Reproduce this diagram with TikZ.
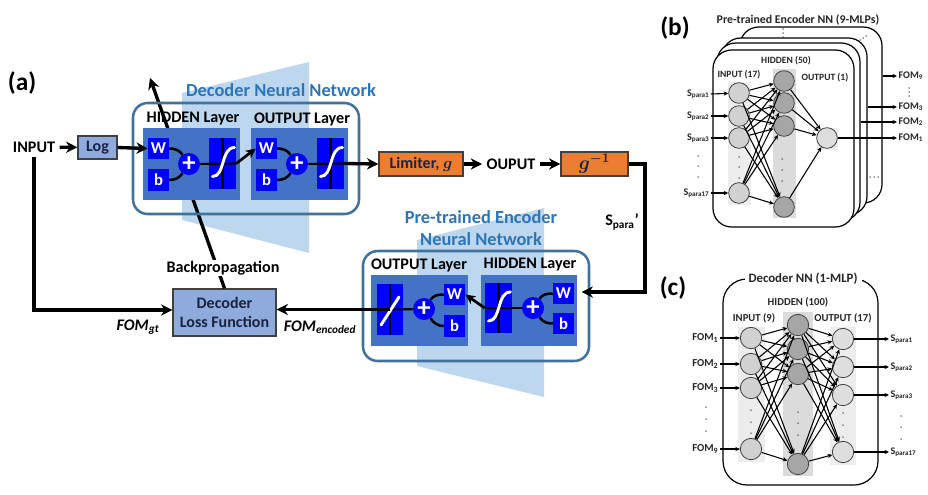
\documentclass[tikz,border=0pt]{standalone}
\usepackage{fontspec}
\setmainfont{Carlito}
\usetikzlibrary{arrows.meta}

\definecolor{panelblue}{HTML}{4472C4}
\definecolor{framblue}{HTML}{41719C}
\definecolor{titleblue}{HTML}{2E75B6}
\definecolor{trapblue}{HTML}{BDD7EE}
\definecolor{logblue}{HTML}{8FAADC}
\definecolor{limorange}{HTML}{ED7D31}
\definecolor{darktext}{HTML}{1A2340}

\tikzset{
	sized/.style 2 args={minimum width=#1*.75pt, minimum height=#2*.75pt, inner sep=0pt},
	biglabel/.style={font=\fontsize{19}{21}\selectfont\bfseries},
	layertext/.style={font=\fontsize{12.1}{13}\selectfont\bfseries},
	nettitle/.style={font=\fontsize{13.8}{16.5}\selectfont\bfseries, text=titleblue, align=center},
	boxtext/.style={font=\fontsize{12}{14.5}\selectfont\bfseries, text=darktext, align=center},
	mathbox/.style={font=\fontsize{14}{15}\selectfont\bfseries, text=darktext},
	frame/.style={draw=framblue, line width=1.9pt, rounded corners=11pt},
	panel/.style={fill=panelblue},
	bluebox/.style={fill=blue, text=white, font=\fontsize{12.5}{13}\selectfont\bfseries},
	plusnode/.style={circle, fill=blue, text=white, minimum size=16.5pt, inner sep=0pt, font=\fontsize{20}{20}\selectfont\bfseries},
	curveline/.style={line width=1.9pt},
	blackline/.style={line width=1.6pt},
	whiteline/.style={draw=white, line width=2.2pt, line cap=round},
	flow/.style={-{Stealth[length=8.5pt,width=8.5pt]}, line width=2.5pt},
	slimflow/.style={-{Stealth[length=7.5pt,width=7pt]}, line width=2pt},
	link/.style={-{Stealth[length=3.5pt,width=3.2pt]}, line width=.8pt},
	card/.style={draw, fill=white, line width=.9pt, rounded corners=14pt},
	netcircle/.style={circle, draw=black!75, line width=.6pt, minimum size=15.5pt, inner sep=0pt},
	incircle/.style={netcircle, fill=black!18},
	hidcircle/.style={netcircle, fill=black!35},
	outcircle/.style={netcircle, fill=black!13},
	smalltext/.style={font=\fontsize{7.2}{8}\selectfont\bfseries, text=black!85},
	portb/.style={font=\fontsize{7.6}{8}\selectfont\bfseries, text=black!85, inner sep=1pt},
	portc/.style={font=\fontsize{8}{9}\selectfont\bfseries, text=black!85, inner sep=1pt},
}

\begin{document}
\begin{tikzpicture}[x=.75pt,y=-.75pt]
	\useasboundingbox (0,0) rectangle (928,494);

	% Light trapezoids behind the two networks
	\fill[trapblue] (182,93) -- (309,62) -- (309,253) -- (182,220) -- cycle;
	\fill[trapblue] (417,240) -- (544,208) -- (544,397) -- (417,366) -- cycle;
	\node[nettitle] (dectitle) at (281,90) {Decoder Neural Network};
	\node[nettitle] (enctitle) at (481,228) {Pre-trained Encoder\\Neural Network};

	% Main boxes of part (a)
	\node[biglabel] (laba) at (22,83) {(a)};
	\node[layertext] (input) at (34,147) {INPUT};
	\node[sized={39}{23}, draw=black!75, line width=1pt, fill=logblue, boxtext] (log) at (97.5,147.5) {Log};
	\node[sized={103}{47}, draw=black!75, line width=1pt, fill=logblue, boxtext] (loss) at (224.5,312.5) {Decoder\\Loss Function};
	\node[sized={84}{24}, draw=black!75, line width=1pt, fill=limorange, boxtext] (limiter) at (421,164) {Limiter, {\boldmath$g$}};
	\node[layertext] (ouput) at (511,164) {OUPUT};
	\node[sized={67}{24}, draw=black!75, line width=1pt, fill=limorange, mathbox] (ginv) at (594.5,164) {{\boldmath$g^{-1}$}};

	% Backpropagation goes under the panels
	\coordinate (bptip) at (150,78);
	\draw[flow] (loss.north) -- (bptip);
	\node[layertext, fill=white, inner sep=1pt] (backprop) at (223,268) {Backpropagation};

	% Decoder network
	\node[frame, sized={226}{111}] (decframe) at (246,158.5) {};
	\node[panel, sized={97}{72}] (panelh) at (191.5,164) {};
	\node[panel, sized={97}{72}] (panelo) at (299.5,164) {};
	\node[layertext] (hidtext) at (193,119) {HIDDEN Layer};
	\node[layertext] (outtext) at (302,119) {OUTPUT Layer};
	\node[bluebox, sized={21}{21}] (w1) at (158.5,148.5) {W};
	\node[bluebox, sized={21}{22}] (b1) at (158.5,180) {b};
	\node[plusnode] (plus1) at (189,164) {+};
	\node[fill=blue, sized={27}{51}] (sig1) at (222.5,163.5) {};
	\node[bluebox, sized={21}{21}] (w2) at (266.5,148.5) {W};
	\node[bluebox, sized={21}{22}] (b2) at (266.5,180) {b};
	\node[plusnode] (plus2) at (297,164) {+};
	\node[fill=blue, sized={27}{51}] (sig2) at (330.5,163.5) {};

	% Encoder network
	\node[frame, sized={226}{110}] (encframe) at (476,306) {};
	\node[panel, sized={97}{71}] (panelc) at (419.5,310.5) {};
	\node[panel, sized={96}{71}] (paneld) at (529,310.5) {};
	\node[layertext] (encout) at (419,265) {OUTPUT Layer};
	\node[layertext] (enchid) at (530,265) {HIDDEN Layer};
	\node[fill=blue, sized={26}{51}] (lin) at (390,309.5) {};
	\node[plusnode] (plus3) at (424,309) {+};
	\node[bluebox, sized={21}{21}] (w3) at (454.5,294.5) {W};
	\node[bluebox, sized={21}{22}] (b3) at (454.5,326) {b};
	\node[fill=blue, sized={27}{50}] (sig3) at (498.5,308) {};
	\node[plusnode] (plus4) at (533,308) {+};
	\node[bluebox, sized={21}{21}] (w4) at (563.5,293.5) {W};
	\node[bluebox, sized={21}{21}] (b4) at (563.5,323.5) {b};

	% Inside of the blue boxes
	\foreach \n in {sig1,sig2,sig3,lin}
		\draw[blackline] (\n.north) -- (\n.south);
	\draw[blackline] (plus1) -- (sig1.east);
	\draw[blackline] (plus2) -- (sig2.east);
	\draw[blackline] (plus3) -- (lin.center);
	\draw[blackline] (plus4) -- (sig3.west);
	\foreach \n in {sig1,sig2,sig3}
		\draw[whiteline,shift={(\n.center)}] (-10,13) .. controls (3,13) and (-2,-16) .. (12,-16);
	\draw[whiteline] (381,325) -- (399,297);
	\draw[curveline] (w1.east) to[out=0,in=125] (plus1);
	\draw[curveline] (b1.east) to[out=0,in=235] (plus1);
	\draw[curveline] (w2.east) to[out=0,in=125] (plus2);
	\draw[curveline] (b2.east) to[out=0,in=235] (plus2);
	\draw[curveline] (w3.west) to[out=180,in=55] (plus3);
	\draw[curveline] (b3.west) to[out=180,in=-55] (plus3);
	\draw[curveline] (w4.west) to[out=180,in=55] (plus4);
	\draw[curveline] (b4.west) to[out=180,in=-55] (plus4);
	\draw[slimflow] (sig1.east) -- (w2.west);
	\draw[slimflow] (sig3.west) -- (w3.east);

	% Arrows of part (a)
	\coordinate (sturn) at (645,292);
	\draw[flow] (input) -- (log);
	\draw[flow] (log.east) -- (w1.west);
	\draw[flow] (sig2.east) -- (limiter.west);
	\draw[flow] (limiter) -- (ouput);
	\draw[flow] (ouput) -- (ginv);
	\draw[flow] (ginv.east) -| (sturn) -- ([xshift=-6.5pt]encframe.east |- sturn);
	\draw[flow] (lin.center) -- (loss.east |- lin.center);
	\draw[flow] (input.south) |- ([yshift=1.9pt]loss.west);
	\node[layertext] (spara) at (622,222) {S\textsubscript{para}'};
	\node[layertext] (fomgt) at (138,327) {\textit{FOM\textsubscript{gt}}};
	\node[layertext] (fomenc) at (320,327) {\textit{FOM\textsubscript{encoded}}};

	% Part (b), the stacked cards
	\node[biglabel] (labb) at (675,28) {(b)};
	\node[font=\fontsize{8.9}{10}\selectfont\bfseries, text=black!85] (titleb) at (798,20) {Pre-trained Encoder NN (9-MLPs)};
	\node[card, sized={142}{176}] (card4) at (811,115) {};
	\node[card, sized={145}{177}] (card3) at (794.5,126.5) {};
	\node[card, sized={143}{178}] (card2) at (788.5,132) {};
	\node[card, sized={141}{177}] (card1) at (783.5,138.5) {};
	\fill[black!7] (728,82) rectangle (751,205);
	\fill[black!14] (773,69) rectangle (796,218);
	\fill[black!7] (817,128) rectangle (838,150);
	\node[smalltext] (inb) at (739,75) {INPUT (17)};
	\node[smalltext] (hidb) at (786,61) {HIDDEN (50)};
	\node[smalltext] (outb) at (825,78) {OUTPUT (1)};
	\foreach \n/\y in {1/93,2/116,3/138,4/193}
		\node[incircle] (bi\n) at (739,\y) {};
	\foreach \n/\y in {1/81,2/103,3/126,4/207}
		\node[hidcircle] (bh\n) at (784,\y) {};
	\node[outcircle] (bo) at (827,138) {};
	\foreach \a in {1,2,3,4} {
		\foreach \b in {1,2,3,4}
			\draw[link] (bi\a) -- (bh\b);
		\draw[link] (bh\a) -- (bo);
	}
	\node[portb, anchor=east] (bs1) at (711,94) {S\textsubscript{para1}};
	\node[portb, anchor=east] (bs2) at (711,116) {S\textsubscript{para2}};
	\node[portb, anchor=east] (bs3) at (711,138) {S\textsubscript{para3}};
	\node[portb, anchor=east] (bs4) at (711,193) {S\textsubscript{para17}};
	\foreach \n in {1,2,3,4}
		\draw[link] (bs\n.east) -- (bi\n);
	\node[portb, anchor=west] (bf1) at (897,138) {FOM\textsubscript{1}};
	\node[portb, anchor=west] (bf2) at (897,122) {FOM\textsubscript{2}};
	\node[portb, anchor=west] (bf3) at (897,107) {FOM\textsubscript{3}};
	\node[portb, anchor=west] (bf9) at (897,76) {FOM\textsubscript{9}};
	\draw[link] (bo) -- (bf1.west);
	\draw[link] (card2.east |- bf2.west) -- (bf2.west);
	\draw[link] (card3.east |- bf3.west) -- (bf3.west);
	\draw[link] (card4.east |- bf9.west) -- (bf9.west);

	% Dots of part (b)
	\foreach \x/\y in {783/29,783/33,783/37,860/40,863/38,866/36,870/177,874/177,878/177,
		909/88,909/92,909/96,698/156,698/166,698/177,739/157,739/167,739/178,782/159,782/170,782/181}
		\fill[black!80] (\x,\y) circle (.75);

	% Part (c)
	\node[biglabel] (labc) at (673,288) {(c)};
	\node[card, fill=none, sized={155}{206}, rounded corners=18pt] (cardc) at (800.5,382) {};
	\node[fill=white, font=\fontsize{9.6}{11}\selectfont\bfseries, text=black!85, inner xsep=3pt] (titlec) at (803,279) {Decoder NN (1-MLP)};
	\fill[black!7] (738,327) rectangle (765,462);
	\fill[black!14] (783,312) rectangle (813,476);
	\fill[black!7] (830,327) rectangle (856,465);
	\node[font=\fontsize{8}{9}\selectfont\bfseries, text=black!85] (hidc) at (798,302) {HIDDEN (100)};
	\node[font=\fontsize{8}{9}\selectfont\bfseries, text=black!85] (inc) at (754,318) {INPUT (9)};
	\node[font=\fontsize{8}{9}\selectfont\bfseries, text=black!85] (outc) at (843,318) {OUTPUT (17)};
	\foreach \n/\y in {1/338,2/364,3/388,4/449}
		\node[incircle, minimum size=16pt] (ci\n) at (751,\y) {};
	\foreach \n/\y in {1/325,2/349,3/374,4/464}
		\node[hidcircle, minimum size=16pt] (ch\n) at (798,\y) {};
	\foreach \n/\y in {1/339,2/367,3/395,4/452}
		\node[outcircle, minimum size=16pt] (co\n) at (843,\y) {};
	\foreach \a in {1,2,3,4}
		\foreach \b in {1,2,3,4} {
			\draw[link] (ci\a) -- (ch\b);
			\draw[link] (ch\a) -- (co\b);
		}
	\node[portc, anchor=east] (cf1) at (720,338) {FOM\textsubscript{1}};
	\node[portc, anchor=east] (cf2) at (720,364) {FOM\textsubscript{2}};
	\node[portc, anchor=east] (cf3) at (720,388) {FOM\textsubscript{3}};
	\node[portc, anchor=east] (cf4) at (720,449) {FOM\textsubscript{9}};
	\foreach \n in {1,2,3,4}
		\draw[link] (cf\n.east) -- (ci\n);
	\node[portb, anchor=west] (cs1) at (889,339) {S\textsubscript{para1}};
	\node[portb, anchor=west] (cs2) at (889,367) {S\textsubscript{para2}};
	\node[portb, anchor=west] (cs3) at (889,395) {S\textsubscript{para3}};
	\node[portb, anchor=west] (cs4) at (889,452) {S\textsubscript{para17}};
	\foreach \n in {1,2,3,4}
		\draw[link] (co\n) -- (cs\n.west);

	% Dots of part (c)
	\foreach \x/\y in {706/407,706/419,706/431,751/410,751/422,751/433,798/412,798/423,798/435,
		843/413,843/425,843/437,901/416,901/427,901/439}
		\fill[black!80] (\x,\y) circle (.75);
\end{tikzpicture}
\end{document}
